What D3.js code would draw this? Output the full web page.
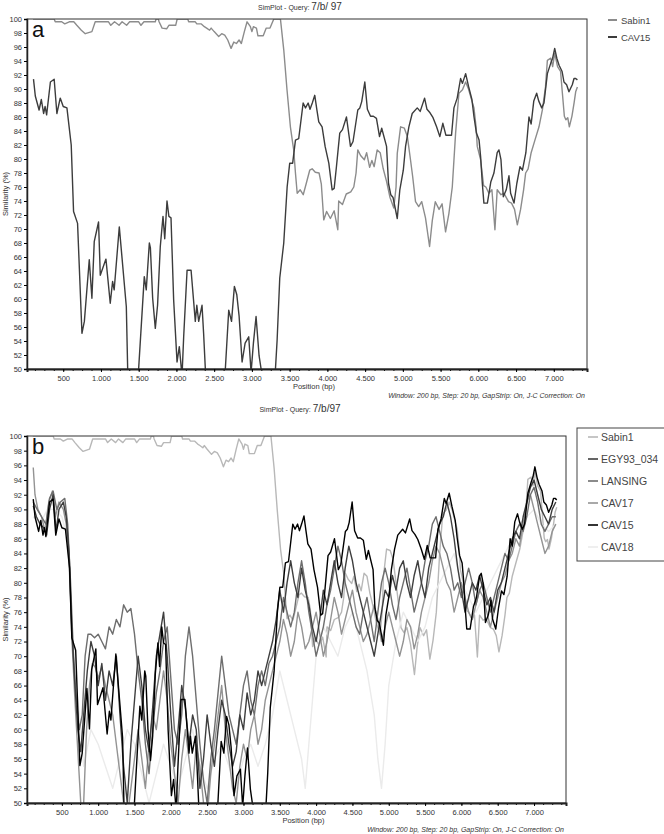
<!DOCTYPE html>
<html>
<head>
<meta charset="utf-8">
<script src="https://cdn.jsdelivr.net/npm/d3@7"></script>
<style>
  body { margin: 0; background: #fff; }
  svg text { font-family: "Liberation Sans", Arial, sans-serif; }
</style>
</head>
<body>
<div id="chart"></div>
<script>
// SimPlot similarity curves, query 7/b/97 (window 200 bp, step 20 bp)

var posTicks = [500, 1000, 1500, 2000, 2500, 3000, 3500, 4000, 4500, 5000, 5500, 6000, 6500, 7000];
var simTicks = d3.range(50, 101, 2);

// [position (bp), similarity (%)]
var sabin1 = [[100,100],[380,100],[394,99.6],[480,99.6],[520,99.3],[580,99.6],[640,99.6],[680,99.1],[740,98.4],[792,97.9],[880,98.2],[924,99.6],[1100,99.6],[1130,99.1],[1180,99.6],[1240,99.1],[1280,99.6],[1340,99.1],[1380,99.6],[1500,99.6],[1530,99.1],[1570,99.6],[1720,99.6],[1730,100],[1760,100],[1770,99.6],[1810,98.7],[1870,98.6],[1900,99.1],[1990,99.1],[2010,100],[2150,100],[2162,99.6],[2250,99.6],[2270,99.3],[2330,99.3],[2370,98.9],[2400,98.7],[2440,98.4],[2460,98.7],[2500,98.2],[2560,97.5],[2600,97.9],[2640,97.7],[2680,97],[2724,95.8],[2760,96.7],[2795,96.5],[2830,97],[2860,96.5],[2900,98.2],[2936,99.6],[2980,98.9],[3000,98.2],[3020,98.9],[3060,98.7],[3080,97.6],[3150,97.6],[3190,98.7],[3240,98.7],[3290,100],[3378,100],[3422,95.6],[3465,89.9],[3510,84.6],[3540,82.3],[3554,81.3],[3577,78],[3600,75.1],[3640,75.6],[3680,74.9],[3720,76.5],[3766,78.4],[3798,78.6],[3840,78.1],[3890,78],[3920,76.4],[3952,71.3],[3990,72.5],[4040,71.5],[4090,72.6],[4138,69.9],[4150,74],[4200,73.5],[4250,75],[4310,75.3],[4350,76],[4380,78],[4403,81.3],[4440,80.5],[4490,79.9],[4520,80.9],[4560,78.8],[4590,79.8],[4620,78.9],[4660,81.3],[4700,80.9],[4740,78.6],[4784,76.8],[4830,74.5],[4880,73],[4910,76],[4926,80.8],[4970,84.6],[5020,84.4],[5060,83.2],[5100,80],[5130,77.5],[5168,73.9],[5210,73.2],[5250,73.9],[5300,71.6],[5354,67.5],[5390,71.2],[5430,73.9],[5480,72.8],[5520,73.6],[5566,69.6],[5610,72.2],[5655,76],[5699,83.7],[5743,89.4],[5790,89.9],[5832,91],[5870,90],[5915,88.3],[5942,87.3],[5970,84.6],[5986,81.8],[6030,79.9],[6070,76.2],[6100,76],[6140,75.1],[6180,75.6],[6220,69.9],[6250,75.6],[6300,74.9],[6340,75.1],[6400,73.9],[6440,73.7],[6480,72.8],[6517,70.6],[6560,72.8],[6600,75.6],[6627,78],[6660,78.6],[6700,80.9],[6750,82.7],[6804,84.6],[6850,87.1],[6890,90.3],[6915,94.1],[6960,94.4],[6985,93.2],[7012,95.1],[7050,93.2],[7090,92.5],[7114,89.4],[7140,86.1],[7160,85.6],[7185,85.9],[7206,84.6],[7240,86.1],[7270,88.1],[7290,89.6],[7313,90.3]];

var cav15 = [[106,91.4],[130,89],[180,87],[210,88.5],[240,86.5],[260,87.5],[280,86.3],[330,91],[380,91.4],[416,86.5],[460,88.7],[500,87.5],[549,87.3],[606,82],[637,72.5],[690,70.8],[748,55.1],[780,56.8],[845,65.6],[880,60.1],[911,68.2],[968,71],[991,63.4],[1066,65.7],[1123,59.4],[1154,62.5],[1175,61.3],[1243,70.3],[1336,58.9],[1354,50],[1380,44],[1470,44],[1499,50],[1574,63.2],[1600,61.3],[1641,68],[1655,67.3],[1685,60.1],[1720,55.8],[1750,59.1],[1786,67.5],[1822,71.8],[1845,68.6],[1875,74],[1900,71.8],[1928,71.6],[1963,59.9],[2008,51],[2038,53.2],[2074,49],[2096,54.6],[2141,64.1],[2194,64.1],[2250,56.8],[2270,59.1],[2295,56.8],[2339,59.1],[2360,55.1],[2383,50],[2420,44],[2620,44],[2648,50],[2693,58.4],[2730,56.8],[2768,61.8],[2800,60.6],[2830,57.6],[2870,51],[2910,53.7],[2958,54.6],[2989,49.5],[3020,53.7],[3055,57.5],[3095,51.9],[3122,50],[3150,44],[3290,44],[3312,50],[3334,54.1],[3369,63],[3422,68],[3467,76],[3501,79.4],[3540,79.4],[3577,82.7],[3620,82.9],[3679,88],[3710,87.3],[3745,88],[3770,87.1],[3800,88],[3833,89.1],[3860,87.1],[3886,85.3],[3930,84.6],[3970,81.8],[4019,79.4],[4063,75.6],[4090,75.8],[4120,78.9],[4164,83.7],[4200,84.2],[4253,86],[4306,81.8],[4340,82.5],[4403,87],[4430,87.3],[4455,88.2],[4496,91],[4530,87.1],[4572,86.1],[4610,86.1],[4650,85.8],[4691,83.2],[4720,84.4],[4784,81.8],[4810,76.5],[4840,74.9],[4870,74.5],[4926,71.5],[4960,75.6],[5006,78.4],[5036,81.8],[5080,84.6],[5124,86.5],[5191,87.3],[5230,86.8],[5288,88.7],[5320,87.1],[5360,86.6],[5400,85.9],[5447,84.6],[5490,83.2],[5530,85.1],[5570,83.4],[5645,83.4],[5677,87.3],[5720,88.7],[5765,91.5],[5790,90.8],[5832,92.2],[5870,90.4],[5915,88.5],[5942,86.1],[5975,83.7],[6010,82.7],[6030,80.4],[6053,76.5],[6074,73.7],[6120,73.7],[6165,76.7],[6207,78],[6250,80.9],[6273,81.3],[6300,79.9],[6331,74.6],[6370,75.6],[6406,77.6],[6428,75.1],[6473,73.7],[6510,76.5],[6552,78.9],[6585,78.4],[6630,80.9],[6671,86],[6700,85],[6735,88.3],[6773,89.4],[6800,88.3],[6840,87.3],[6870,88],[6915,92.2],[6960,93.7],[6985,94.4],[7012,95.8],[7040,94.4],[7070,93.4],[7110,92.5],[7135,91],[7170,90.6],[7201,89.6],[7245,90.6],[7268,91.5],[7290,91.5],[7313,91.3]];

var egy93 = [[106,90.5],[150,89],[200,88],[250,87.5],[290,86.5],[330,90],[380,92],[420,87],[460,90],[520,91],[560,89],[600,84],[640,73],[680,66],[720,60],[760,57],[800,62],[850,68],[900,72],[950,70],[1000,66],[1050,69],[1100,64],[1150,68],[1200,66],[1250,70],[1300,62],[1350,55],[1400,50],[1450,58],[1500,64],[1550,70],[1600,66],[1650,60],[1700,57],[1750,63],[1800,70],[1850,73],[1900,76],[1950,70],[2000,62],[2050,55],[2100,60],[2150,66],[2200,63],[2250,58],[2300,62],[2350,60],[2400,52],[2450,56],[2500,62],[2550,58],[2600,55],[2650,60],[2700,64],[2750,62],[2800,58],[2850,55],[2900,57],[2950,62],[3000,60],[3050,65],[3100,62],[3150,64],[3200,68],[3250,66],[3300,68],[3350,70],[3400,72],[3450,75],[3500,79],[3550,76],[3600,80],[3650,83],[3700,80],[3750,78],[3800,82],[3850,79],[3900,77],[3950,74],[4000,72],[4050,75],[4100,79],[4150,77],[4200,80],[4250,83],[4300,80],[4350,78],[4400,82],[4450,85],[4500,83],[4550,80],[4600,78],[4650,76],[4700,74],[4750,72],[4800,70],[4850,73],[4900,76],[4950,79],[5000,78],[5050,81],[5100,79],[5150,82],[5200,83],[5250,80],[5300,78],[5350,81],[5400,83],[5450,80],[5500,78],[5550,82],[5600,84],[5650,86],[5700,88],[5750,89],[5800,91],[5850,89],[5900,86],[5950,82],[6000,79],[6050,76],[6100,78],[6150,80],[6200,79],[6250,81],[6300,79],[6350,77],[6400,78],[6450,76],[6500,79],[6550,80],[6600,82],[6650,84],[6700,86],[6750,87],[6800,86],[6850,89],[6900,91],[6950,93],[7000,94],[7050,92],[7100,90],[7150,89],[7200,88],[7250,90],[7300,91]];

var lansing = [[106,91],[160,90],[220,89],[280,88],[330,91.5],[380,92.5],[430,90],[480,91],[540,91.5],[580,88],[620,80],[660,70],[700,64],[740,60],[780,62],[820,70],[860,73],[900,73],[950,72.5],[1000,73],[1050,72],[1100,71],[1150,74],[1200,73],[1250,75],[1300,74],[1350,77],[1400,76],[1450,76.5],[1500,73],[1550,68],[1600,64],[1650,58],[1700,54],[1750,60],[1800,65],[1850,68],[1900,72],[1950,74],[2000,67],[2050,60],[2100,58],[2150,62],[2200,70],[2250,74],[2300,70],[2350,64],[2400,58],[2450,53],[2500,50],[2550,56],[2600,60],[2650,65],[2700,70],[2750,66],[2800,62],[2850,60],[2900,58],[2950,62],[3000,66],[3050,68],[3100,64],[3150,62],[3200,66],[3250,68],[3300,66],[3350,69],[3400,70],[3450,72],[3500,74],[3550,78],[3600,76],[3650,74],[3700,76],[3750,80],[3800,83],[3850,80],[3900,76],[3950,73],[4000,70],[4050,72],[4100,74],[4150,77],[4200,79],[4250,82],[4300,85],[4350,83],[4400,80],[4450,78],[4500,76],[4550,74],[4600,73],[4650,76],[4700,78],[4750,75],[4800,72],[4850,76],[4900,80],[4950,82],[5000,80],[5050,77],[5100,75],[5150,78],[5200,80],[5250,82],[5300,79],[5350,76],[5400,78],[5450,80],[5500,83],[5550,85],[5600,88],[5650,89],[5700,87],[5750,85],[5800,84],[5850,82],[5900,79],[5950,80],[6000,78],[6050,80],[6100,82],[6150,80],[6200,77],[6250,79],[6300,80],[6350,78],[6400,76],[6450,78],[6500,80],[6550,82],[6600,84],[6650,83],[6700,85],[6750,87],[6800,88],[6850,87],[6900,89],[6950,92],[7000,93],[7050,91],[7100,88],[7150,87],[7200,88],[7250,89],[7300,89]];

var cav17 = [[106,95.7],[130,92],[170,90],[220,89],[270,87],[320,91],[370,92.5],[410,89],[460,91],[520,90],[560,88],[600,83],[640,72],[680,64],[720,57],[760,50],[780,46],[800,50],[840,60],[880,66],[920,69],[960,68.5],[1000,67],[1050,68.5],[1100,66],[1150,64],[1200,62],[1250,58],[1300,54],[1350,50],[1400,48],[1450,52],[1500,56],[1550,60],[1600,56],[1650,52],[1700,58],[1750,62],[1800,60],[1850,64],[1900,68],[1950,64],[2000,58],[2050,54],[2100,50],[2150,56],[2200,60],[2250,56],[2300,52],[2350,58],[2400,55],[2450,50],[2500,48],[2550,54],[2600,58],[2650,62],[2700,66],[2750,60],[2800,56],[2850,52],[2900,50],[2950,55],[3000,58],[3050,56],[3100,60],[3150,62],[3200,58],[3250,60],[3300,64],[3350,66],[3400,68],[3450,70],[3500,72],[3550,75],[3600,73],[3650,70],[3700,72],[3750,76],[3800,74],[3850,71],[3900,72],[3950,74],[4000,76],[4050,73],[4100,70],[4150,72],[4200,75],[4250,78],[4300,76],[4350,73],[4400,75],[4450,77],[4500,79],[4550,76],[4600,74],[4650,72],[4700,73],[4750,75],[4800,77],[4850,75],[4900,72],[4950,74],[5000,76],[5050,74],[5100,72],[5150,70],[5200,72],[5250,75],[5300,74],[5350,71],[5400,73],[5450,76],[5500,78],[5550,80],[5600,83],[5650,85],[5700,84],[5750,82],[5800,80],[5850,79],[5900,76],[5950,78],[6000,80],[6050,78],[6100,76],[6150,75],[6200,77],[6250,79],[6300,78],[6350,76],[6400,74],[6450,76],[6500,78],[6550,80],[6600,81],[6650,83],[6700,84],[6750,86],[6800,85],[6850,88],[6900,91],[6950,92],[7000,90],[7050,88],[7100,86],[7150,84],[7200,85],[7250,87],[7300,88]];

var cav18 = [[106,89],[200,88],[300,90],[400,90],[500,89],[580,86],[640,74],[700,66],[760,60],[800,55],[900,60],[1000,58],[1100,55],[1200,52],[1300,56],[1400,60],[1500,58],[1600,54],[1700,50],[1800,54],[1900,58],[2000,55],[2100,52],[2200,56],[2300,60],[2400,55],[2500,52],[2600,56],[2700,58],[2800,55],[2900,52],[3000,56],[3100,58],[3200,55],[3300,58],[3400,62],[3500,68],[3600,64],[3700,60],[3800,56],[3850,52],[3900,58],[3950,64],[4000,70],[4100,74],[4200,72],[4300,70],[4400,74],[4500,76],[4600,72],[4700,68],[4800,62],[4850,56],[4900,52],[4950,58],[5000,66],[5100,72],[5200,76],[5300,74],[5400,72],[5500,74],[5600,78],[5700,80],[5800,82],[5900,84],[6000,80],[6100,78],[6200,76],[6300,78],[6400,80],[6500,82],[6600,84],[6700,86],[6800,88],[6900,89],[7000,90],[7100,88],[7200,87],[7300,88]];

var width = 664, height = 834;
var svg = d3.select("#chart").append("svg")
    .attr("width", width)
    .attr("height", height);

var fmt = d3.formatLocale({ decimal: ",", thousands: ".", grouping: [3], currency: ["", ""] }).format(",");

var panels = [
  { id: "a", top: 19, bottom: 369, left: 27, right: 587, titleY: 10, query: "7/b/ 97",
    series: [ { name: "Sabin1", data: sabin1, color: "#8c8c8c" },
              { name: "CAV15", data: cav15, color: "#3c3c3c" } ],
    legend: { x: 608, y: 20, dy: 17, box: false } },
  { id: "b", top: 436, bottom: 803, left: 27, right: 566, titleY: 412, query: "7/b/97",
    series: [ { name: "Sabin1", data: sabin1, color: "#b8b8b8" },
              { name: "CAV18", data: cav18, color: "#ebebeb" },
              { name: "CAV17", data: cav17, color: "#939393" },
              { name: "LANSING", data: lansing, color: "#6e6e6e" },
              { name: "EGY93_034", data: egy93, color: "#3e3e3e" },
              { name: "CAV15", data: cav15, color: "#000000" } ],
    legendOrder: ["Sabin1", "EGY93_034", "LANSING", "CAV17", "CAV15", "CAV18"],
    legend: { x: 588, y: 437, dy: 22, box: true } }
];

panels.forEach(drawPanel);

function drawPanel(p) {
  var x = d3.scaleLinear().domain([20, 7440]).range([p.left, p.right]);
  var y = d3.scaleLinear().domain([50, 100]).range([p.bottom, p.top]);
  var g = svg.append("g");

  g.append("clipPath").attr("id", "clip-" + p.id)
    .append("rect")
      .attr("x", p.left).attr("y", p.top)
      .attr("width", p.right - p.left).attr("height", p.bottom - p.top);

  var line = d3.line()
      .x(function(d){ return x(d[0]); })
      .y(function(d){ return y(d[1]); });

  var lines = g.append("g").attr("clip-path", "url(#clip-" + p.id + ")");
  p.series.forEach(function(s){
    lines.append("path")
        .attr("d", line(s.data))
        .attr("fill", "none")
        .attr("stroke", s.color)
        .attr("stroke-width", 1.4)
        .attr("stroke-linejoin", "round");
  });

  // frame
  g.append("rect")
      .attr("x", p.left).attr("y", p.top)
      .attr("width", p.right - p.left).attr("height", p.bottom - p.top)
      .attr("fill", "none").attr("stroke", "#333").attr("stroke-width", 1);

  // y axis
  var yAxis = g.append("g")
      .attr("transform", "translate(" + p.left + ",0)")
      .call(d3.axisLeft(y).tickValues(simTicks).tickSize(3).tickPadding(2));
  yAxis.select(".domain").attr("stroke", "#222").attr("stroke-width", 1.5);
  yAxis.selectAll("text").attr("font-size", 7.5).attr("fill", "#333");

  // x axis, minor ticks every 125 bp
  var xMinor = g.append("g")
      .attr("transform", "translate(0," + p.bottom + ")")
      .call(d3.axisBottom(x).tickValues(d3.range(125, 7440, 125)).tickSize(2).tickFormat(""));
  xMinor.select(".domain").remove();
  var xAxis = g.append("g")
      .attr("transform", "translate(0," + p.bottom + ")")
      .call(d3.axisBottom(x).tickValues(posTicks).tickSize(3).tickPadding(4).tickFormat(fmt));
  xAxis.select(".domain").attr("stroke", "#222").attr("stroke-width", 2);
  xAxis.selectAll("text").attr("font-size", 7.5).attr("fill", "#333");

  // labels
  g.append("text")
      .attr("transform", "translate(8," + ((p.top + p.bottom) / 2) + ") rotate(-90)")
      .attr("text-anchor", "middle")
      .attr("font-size", 7.5).attr("fill", "#333")
      .text("Similarity (%)");

  g.append("text")
      .attr("x", (p.left + p.right) / 2 + 7).attr("y", p.bottom + 20)
      .attr("text-anchor", "middle")
      .attr("font-size", 7.5).attr("fill", "#333")
      .text("Position (bp)");

  g.append("text")
      .attr("x", p.right - 2).attr("y", p.bottom + 29)
      .attr("text-anchor", "end")
      .attr("font-size", 7).attr("font-style", "italic").attr("fill", "#333")
      .text("Window: 200 bp, Step: 20 bp, GapStrip: On, J-C Correction: On");

  var title = g.append("text")
      .attr("x", 300).attr("y", p.titleY)
      .attr("text-anchor", "middle")
      .attr("fill", "#333");
  title.append("tspan").attr("font-size", 7).text("SimPlot - Query:  ");
  title.append("tspan").attr("font-size", 10).text(p.query);

  g.append("text")
      .attr("x", p.left + 5).attr("y", p.top + 18)
      .attr("font-size", 22).attr("fill", "#111")
      .text(p.id);

  // legend
  var L = p.legend;
  var order = p.legendOrder || p.series.map(function(s){ return s.name; });
  var byName = {};
  p.series.forEach(function(s){ byName[s.name] = s; });
  if (L.box) {
    g.append("rect")
        .attr("x", 577).attr("y", 428)
        .attr("width", 90).attr("height", 133)
        .attr("fill", "#fff").attr("stroke", "#444").attr("stroke-width", 1);
  }
  order.forEach(function(name, i){
    var s = byName[name];
    var ly = L.y + i * L.dy;
    g.append("line")
        .attr("x1", L.x).attr("x2", L.x + (L.box ? 10 : 9))
        .attr("y1", ly).attr("y2", ly)
        .attr("stroke", s.color).attr("stroke-width", L.box ? 1.6 : 2);
    g.append("text")
        .attr("x", L.x + 13).attr("y", ly + (L.box ? 4 : 3.5))
        .attr("font-size", L.box ? 10.5 : 9.5).attr("fill", "#444")
        .text(name);
  });
}
</script>
</body>
</html>
